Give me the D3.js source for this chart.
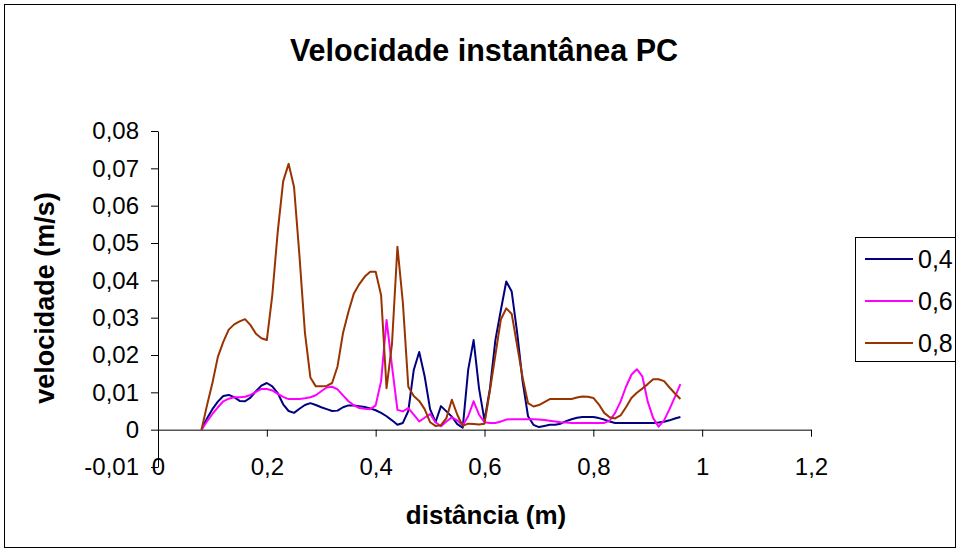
<!DOCTYPE html>
<html>
<head>
<meta charset="utf-8">
<script src="https://cdn.jsdelivr.net/npm/d3@7"></script>
<style>
  body { margin: 0; background: #fff; }
  svg { display: block; font-family: "Liberation Sans", Arial, sans-serif; }
</style>
</head>
<body>
<svg id="chart"></svg>
<script>
// distância (m)
const distances = [
  0.08, 0.09, 0.10, 0.11, 0.12, 0.13, 0.14, 0.15, 0.16, 0.17,
  0.18, 0.19, 0.20, 0.21, 0.22, 0.23, 0.24, 0.25, 0.26, 0.27,
  0.28, 0.29, 0.30, 0.31, 0.32, 0.33, 0.34, 0.35, 0.36, 0.37,
  0.38, 0.39, 0.40, 0.41, 0.42, 0.43, 0.44, 0.45, 0.46, 0.47,
  0.48, 0.49, 0.50, 0.51, 0.52, 0.53, 0.54, 0.55, 0.56, 0.57,
  0.58, 0.59, 0.60, 0.61, 0.62, 0.63, 0.64, 0.65, 0.66, 0.67,
  0.68, 0.69, 0.70, 0.71, 0.72, 0.73, 0.74, 0.75, 0.76, 0.77,
  0.78, 0.79, 0.80, 0.81, 0.82, 0.83, 0.84, 0.85, 0.86, 0.87,
  0.88, 0.89, 0.90, 0.91, 0.92, 0.93, 0.94, 0.95, 0.96
];

// velocidade (m/s) per series
const v04 = [
  0, 0.003, 0.0055, 0.0075, 0.009, 0.0093, 0.0087, 0.0077, 0.0076, 0.0086,
  0.0103, 0.0118, 0.0125, 0.0116, 0.0098, 0.0068, 0.005, 0.0045, 0.0056, 0.0066,
  0.0071, 0.0066, 0.006, 0.0055, 0.005, 0.0051, 0.006, 0.0065, 0.0065, 0.0063,
  0.0061, 0.0057, 0.0052, 0.0045, 0.0036, 0.0025, 0.0013, 0.0018, 0.005, 0.016,
  0.0208, 0.0143, 0.0055, 0.002, 0.0063, 0.0049, 0.0035, 0.0015, 0.0005, 0.016,
  0.024, 0.011, 0.0025, 0.011, 0.024, 0.032, 0.0397, 0.037, 0.026, 0.013,
  0.0036, 0.0013, 0.0007, 0.001, 0.0013, 0.0013, 0.0016, 0.0023, 0.0028, 0.0032,
  0.0034, 0.0034, 0.0034, 0.0031, 0.0027, 0.0022, 0.0018, 0.0018, 0.0018, 0.0018,
  0.0018, 0.0018, 0.0018, 0.0018, 0.0019, 0.0021, 0.0025, 0.003, 0.0034
];
const v06 = [
  0, 0.0022, 0.0042, 0.006, 0.0076, 0.0083, 0.0087, 0.0087, 0.0088, 0.0093,
  0.0101, 0.0109, 0.0109, 0.0105, 0.0096, 0.0088, 0.0082, 0.0082, 0.0082, 0.0084,
  0.0087, 0.0092, 0.0103, 0.0113, 0.0115, 0.0108, 0.0092, 0.0076, 0.0065, 0.0058,
  0.0056, 0.0055, 0.0065, 0.013, 0.0294, 0.017, 0.0053, 0.0049, 0.0058, 0.004,
  0.0022, 0.0032, 0.0042, 0.002, 0.0009, 0.0022, 0.0033, 0.0025, 0.0011, 0.0036,
  0.0076, 0.004, 0.002, 0.0018, 0.0018, 0.0022, 0.0027, 0.0028, 0.0028, 0.0028,
  0.0028, 0.0028, 0.0027, 0.0026, 0.0024, 0.0022, 0.002, 0.0019, 0.0018, 0.0018,
  0.0018, 0.0018, 0.0018, 0.0018, 0.0018, 0.0024, 0.0045, 0.0075, 0.0115, 0.0147,
  0.0162, 0.0143, 0.0075, 0.0031, 0.0008, 0.0025, 0.0055, 0.0088, 0.0122
];
const v08 = [
  0, 0.0065, 0.0125, 0.0195, 0.0235, 0.0268, 0.0282, 0.029, 0.0296, 0.028,
  0.0257, 0.0245, 0.024, 0.036, 0.053, 0.0665, 0.0712, 0.065, 0.0465, 0.026,
  0.014, 0.0116, 0.0116, 0.0117, 0.0125, 0.017, 0.0259, 0.0316, 0.0365, 0.039,
  0.041, 0.0423, 0.0423, 0.036, 0.0111, 0.023, 0.049, 0.034, 0.0115, 0.009,
  0.0077, 0.0055, 0.002, 0.001, 0.0012, 0.0031, 0.008, 0.004, 0.001, 0.0016,
  0.0015, 0.0014, 0.0016, 0.0105, 0.02, 0.0295, 0.0325, 0.031, 0.0225, 0.014,
  0.0071, 0.0062, 0.0066, 0.0074, 0.0082, 0.0082, 0.0082, 0.0082, 0.0082, 0.0086,
  0.0089, 0.0088, 0.0085, 0.0068, 0.0045, 0.0033, 0.003, 0.0038, 0.006, 0.0085,
  0.0099, 0.011, 0.0122, 0.0135, 0.0135, 0.013, 0.0113, 0.0097, 0.0082
];

const seriesNames = ["0,4", "0,6", "0,8"];
const seriesColors = ["#000080", "#ff00ff", "#993300"];
const xTicks = [0, 0.2, 0.4, 0.6, 0.8, 1, 1.2];
const yTicks = [-0.01, 0, 0.01, 0.02, 0.03, 0.04, 0.05, 0.06, 0.07, 0.08];

const series = [v04, v06, v08].map((vals, i) => ({
  name: seriesNames[i],
  color: seriesColors[i],
  points: vals.map((v, j) => ({ x: distances[j], y: v }))
}));

const width = 961, height = 552;
const svg = d3.select("#chart").attr("width", width).attr("height", height);

const pt = d3.formatLocale({ decimal: ",", thousands: ".", grouping: [3], currency: ["", ""], minus: "-" });
const fmt = pt.format("~g");

const xScale = d3.scaleLinear().domain([0, 1.2]).range([158, 811]);
const yScale = d3.scaleLinear().domain([-0.01, 0.08]).range([467, 131]);

// chart border
svg.append("rect")
  .attr("x", 4.5).attr("y", 4.5)
  .attr("width", 951).attr("height", 543)
  .attr("fill", "none").attr("stroke", "#000");

// y axis
const yAxis = svg.append("g")
  .attr("transform", `translate(${xScale(0)},0)`)
  .call(d3.axisLeft(yScale).tickValues(yTicks).tickFormat(fmt).tickSize(7).tickSizeOuter(0).tickPadding(12));
yAxis.selectAll("text").attr("font-size", 24).attr("fill", "#000").attr("font-family", null);

// x axis at y = 0, labels at the bottom of the plot
const xAxis = svg.append("g")
  .attr("transform", `translate(0,${yScale(0)})`)
  .call(d3.axisBottom(xScale).tickValues(xTicks).tickFormat(fmt).tickSize(7).tickSizeOuter(0));
xAxis.selectAll("text")
  .attr("font-size", 24).attr("fill", "#000").attr("font-family", null)
  .attr("y", yScale(-0.01) - yScale(0)).attr("dy", "0.35em");

svg.selectAll(".domain, .tick line").attr("stroke", "#000");

// lines
const line = d3.line().x(d => xScale(d.x)).y(d => yScale(d.y));
svg.append("g").selectAll("path")
  .data(series)
  .enter()
  .append("path")
  .attr("d", d => line(d.points))
  .attr("fill", "none")
  .attr("stroke", d => d.color)
  .attr("stroke-width", 2)
  .attr("stroke-linejoin", "round");

// titles
svg.append("text")
  .attr("x", 484).attr("y", 50).attr("dy", "0.35em")
  .attr("text-anchor", "middle")
  .attr("font-size", 30.5).attr("font-weight", "bold")
  .text("Velocidade instantânea PC");

svg.append("text")
  .attr("x", 486).attr("y", 515).attr("dy", "0.35em")
  .attr("text-anchor", "middle")
  .attr("font-size", 26).attr("font-weight", "bold")
  .text("distância (m)");

svg.append("text")
  .attr("transform", "translate(45,298) rotate(-90)")
  .attr("dy", "0.35em")
  .attr("text-anchor", "middle")
  .attr("font-size", 27).attr("font-weight", "bold")
  .text("velocidade (m/s)");

// legend
const legend = svg.append("g");
legend.append("rect")
  .attr("x", 855.5).attr("y", 237.5)
  .attr("width", 100).attr("height", 124)
  .attr("fill", "#fff").attr("stroke", "#000");

const items = legend.selectAll("g.item")
  .data(series)
  .enter()
  .append("g")
  .attr("class", "item")
  .attr("transform", (d, i) => `translate(0, ${259 + i * 42})`);

items.append("line")
  .attr("x1", 865).attr("x2", 913)
  .attr("stroke", d => d.color)
  .attr("stroke-width", 2);

items.append("text")
  .attr("x", 918).attr("dy", "0.35em")
  .attr("font-size", 25)
  .text(d => d.name);
</script>
</body>
</html>
